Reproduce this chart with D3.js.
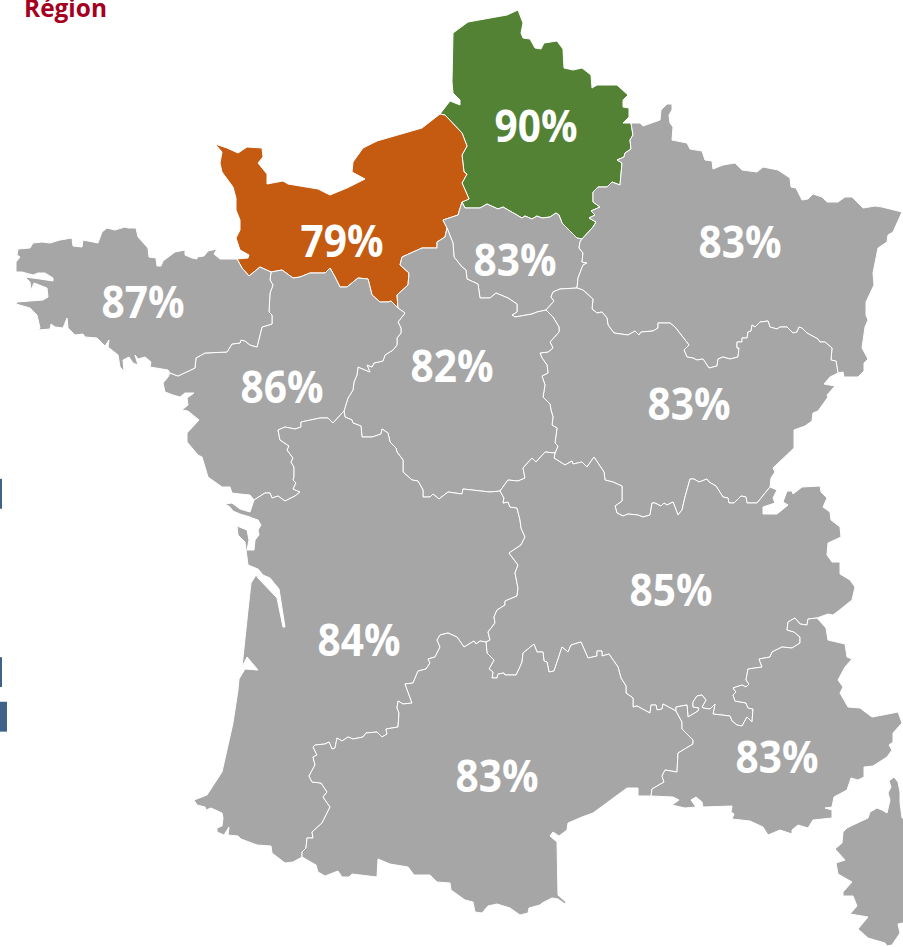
<!DOCTYPE html>
<html lang="fr">
<head>
<meta charset="utf-8">
<title>Région</title>
<script src="https://cdn.jsdelivr.net/npm/d3@7"></script>
<style>
html,body{margin:0;padding:0;background:#fff;overflow:hidden}
svg{display:block}
text{font-family:"Open Sans",sans-serif;font-weight:700}
</style>
</head>
<body>
<div id="chart"></div>
<script>
const titleText = "Région";
const regionNames = ["Hauts-de-France","Normandie","Île-de-France","Grand Est","Bourgogne-Franche-Comté","Centre-Val de Loire","Pays de la Loire","Bretagne","Nouvelle-Aquitaine","Auvergne-Rhône-Alpes","Occitanie","Provence-Alpes-Côte d'Azur"];
const regionValues = [90,79,83,83,83,82,86,87,84,85,83,83];
const regionColors = ["#548235","#C55A11","#A6A6A6","#A6A6A6","#A6A6A6","#A6A6A6","#A6A6A6","#A6A6A6","#A6A6A6","#A6A6A6","#A6A6A6","#A6A6A6"];
const labelAnchors = [[536,124.5],[342,239.5],[515,258.5],[740,240.5],[689,402.5],[452,364.5],[282,385.5],[143,300.5],[359,638.5],[671,588.5],[497,774.5],[777,755.5]];

// Shared borders (map units = picture pixels)
const hdfCoast = [[440,114],[450,101],[460,105],[460,100],[453,93],[452,82],[453,33],[468,22],[507,15],[518,10],[523,23],[521,33],[523,38],[530,39],[535,48],[541,49],[544,43],[557,41],[563,49],[564,68],[573,70],[582,68],[591,75],[592,88],[597,85],[617,85],[628,95],[623,100],[623,107],[629,108],[629,117],[623,123],[631,123]];
const hdfGe = [[631,123],[633,135],[630,140],[631,149],[625,153],[624,157],[617,160],[622,163],[620,185],[612,182],[607,187],[598,187],[593,192],[593,202],[600,207],[591,211],[595,215],[589,218],[596,222],[593,227],[582,239]];
const hdfIdf = [[582,239],[577,238],[562,223],[559,215],[556,213],[550,217],[542,218],[537,216],[532,219],[525,216],[522,218],[503,207],[498,209],[487,204],[480,208],[465,208],[462,202]];
const hdfNorm = [[462,202],[469,199],[466,192],[462,183],[467,174],[464,172],[462,155],[467,146],[462,133],[445,115],[440,114]];
const normCoast = [[440,114],[422,128],[377,141],[363,148],[353,162],[352,172],[365,179],[347,188],[330,195],[318,189],[288,184],[283,181],[267,184],[267,174],[258,163],[263,157],[262,148],[247,147],[238,153],[227,148],[215,144],[222,152],[220,163],[222,172],[233,187],[236,198],[236,210],[240,220],[240,230],[236,238],[240,250],[249,255],[248,258],[237,259]];
const normBret = [[237,259],[242,268],[249,276],[260,267],[271,272]];
const normPdl = [[271,272],[282,270],[293,278],[300,277],[310,273],[325,273],[330,268],[335,277],[340,287],[347,287],[358,278],[368,279],[372,295],[380,302],[388,302],[391,301],[398,308]];
const normCvl = [[398,308],[397,295],[408,285],[409,273],[400,265],[402,257],[422,248],[437,248],[437,242],[445,237],[447,228]];
const normIdf = [[447,228],[443,220],[458,215],[462,202]];
const idfCvl = [[447,228],[453,243],[454,257],[462,267],[466,270],[467,279],[478,284],[480,298],[490,298],[496,293],[508,298],[517,304],[517,312],[512,315],[515,317],[532,314],[537,312],[546,310]];
const idfBfc = [[546,310],[554,301],[551,297],[553,292],[560,289],[577,288]];
const idfGe = [[577,288],[578,278],[583,265],[587,263],[582,262],[583,253],[579,248],[580,242],[582,239]];
const geBfc = [[577,288],[583,290],[593,299],[592,309],[597,313],[602,312],[607,318],[608,325],[614,333],[628,335],[635,331],[639,335],[641,332],[653,331],[658,328],[658,323],[670,323],[675,327],[689,345],[684,350],[687,357],[693,358],[697,360],[703,359],[709,368],[717,366],[718,359],[723,357],[730,359],[738,357],[739,348],[737,348],[737,342],[742,342],[742,338],[747,338],[748,332],[751,331],[752,325],[755,327],[760,322],[768,321],[770,327],[777,329],[780,327],[787,327],[793,333],[797,332],[799,327],[802,328],[807,333],[818,339],[820,342],[825,342],[832,348],[831,360],[836,361],[838,373]];
const geOuter = [[631,123],[640,123],[643,126],[660,120],[661,110],[667,104],[672,104],[672,110],[669,115],[670,123],[673,127],[672,140],[687,143],[690,149],[702,151],[705,160],[712,161],[713,169],[723,165],[735,163],[742,170],[757,172],[763,167],[778,170],[790,178],[791,187],[796,188],[802,200],[808,199],[813,194],[822,197],[827,202],[838,202],[845,197],[852,197],[863,208],[875,206],[882,207],[902,212],[893,232],[888,235],[887,242],[878,248],[873,273],[874,285],[866,302],[866,315],[868,320],[865,327],[862,348],[868,359],[864,363],[864,371],[858,377],[844,377],[843,372],[838,373]];
const bfcOuter = [[838,373],[830,377],[824,384],[835,386],[827,395],[828,397],[818,411],[813,413],[812,421],[805,426],[794,430],[794,448],[773,468],[775,472],[771,478],[770,487]];
const bfcAra = [[770,487],[757,503],[747,503],[746,497],[741,496],[734,503],[729,503],[728,498],[723,497],[716,486],[709,482],[707,479],[699,482],[694,479],[690,479],[685,497],[682,510],[678,515],[675,507],[673,502],[667,505],[664,503],[661,506],[655,503],[652,503],[650,515],[643,517],[638,515],[628,514],[623,516],[617,513],[615,506],[622,501],[622,486],[613,482],[605,480],[604,472],[594,457],[587,467],[582,462],[573,464],[572,461],[565,465],[554,458],[555,453]];
const bfcCvl = [[546,310],[553,317],[559,327],[559,332],[550,342],[553,348],[548,352],[540,353],[542,358],[547,365],[548,373],[542,376],[545,385],[543,397],[550,404],[551,410],[553,417],[552,425],[557,428],[555,443],[558,446],[555,453]];
const araCvl = [[555,453],[545,452],[536,462],[532,458],[523,468],[525,478],[518,481],[508,480],[500,491]];
const cvlNa = [[500,491],[490,492],[463,489],[462,494],[448,492],[439,499],[433,494],[430,497],[423,497],[423,490],[418,481],[412,480],[403,472],[403,460],[397,452],[396,448],[390,442],[388,433],[382,429],[381,434],[372,437],[362,437],[361,426],[353,423],[352,420],[345,417],[344,411]];
const cvlPdl = [[344,411],[348,398],[353,390],[354,382],[357,375],[358,367],[370,372],[367,365],[372,367],[374,363],[383,361],[385,355],[393,350],[397,345],[397,338],[401,333],[401,328],[398,322],[405,313],[398,308]];
const pdlNa = [[344,411],[333,423],[328,418],[320,418],[301,422],[301,427],[295,429],[285,427],[278,430],[280,440],[289,446],[287,450],[293,458],[291,462],[294,467],[294,477],[293,480],[296,483],[293,489],[300,492],[295,496],[285,501],[278,496],[272,498],[270,493],[265,493],[254,500]];
const pdlCoast = [[254,500],[250,495],[240,494],[232,493],[230,487],[222,487],[208,477],[202,457],[198,455],[187,442],[187,433],[199,420],[188,411],[182,410],[188,405],[187,398],[194,393],[185,393],[180,397],[173,395],[165,392],[163,383],[168,377],[170,373]];
const pdlBret = [[170,373],[178,376],[195,368],[196,358],[205,353],[227,352],[232,344],[240,343],[241,340],[245,341],[250,345],[257,347],[262,327],[272,324],[272,315],[269,312],[270,293],[273,285],[270,280],[271,272]];
const bretCoast = [[237,259],[220,259],[214,254],[217,249],[208,251],[204,256],[197,257],[197,259],[192,258],[185,255],[185,250],[175,252],[163,261],[161,266],[157,266],[156,258],[149,257],[148,248],[138,237],[136,228],[128,228],[125,227],[115,230],[107,228],[102,232],[98,243],[83,240],[82,247],[73,246],[72,238],[60,240],[50,243],[42,242],[33,243],[30,248],[18,249],[17,255],[20,257],[16,262],[16,272],[22,272],[33,275],[38,273],[45,273],[53,278],[53,281],[40,279],[25,277],[30,282],[31,290],[34,283],[47,288],[48,297],[43,300],[17,302],[16,304],[23,306],[30,308],[37,315],[40,328],[38,330],[50,329],[51,324],[55,327],[63,328],[67,318],[68,328],[75,335],[83,334],[85,337],[97,338],[105,346],[109,340],[108,347],[118,355],[120,367],[124,371],[123,360],[129,357],[133,363],[138,365],[135,355],[138,359],[145,357],[151,362],[150,367],[168,370],[170,373]];
const naCoast = [[254,500],[250,512],[240,509],[232,503],[225,504],[230,507],[233,511],[240,514],[250,517],[252,518],[258,520],[261,525],[258,530],[259,535],[255,540],[254,550],[247,550],[249,540],[247,530],[237,526],[238,535],[245,542],[248,565],[258,569],[263,575],[270,578],[279,589],[285,627],[283,627],[277,598],[258,578],[256,575],[251,583],[248,610],[242,667],[247,657],[258,670],[245,669],[239,679],[238,690],[233,723],[222,772],[207,795],[194,800],[197,805],[205,807],[206,810],[211,808],[222,813],[223,818],[222,826],[217,828],[217,832],[224,835],[229,827],[228,835],[238,836],[241,839],[257,845],[271,846],[272,853],[285,863],[293,862],[302,857]];
const naOcc = [[302,857],[302,852],[306,848],[307,838],[313,838],[312,832],[322,823],[330,807],[323,797],[327,792],[321,783],[312,782],[309,776],[315,765],[313,757],[317,755],[313,747],[315,745],[325,744],[329,742],[332,749],[335,748],[337,738],[342,741],[348,737],[353,739],[363,737],[366,733],[377,732],[382,737],[387,734],[386,729],[398,727],[399,713],[397,708],[398,701],[403,704],[412,703],[405,684],[413,683],[418,671],[426,669],[430,663],[428,659],[435,657],[440,647],[437,640],[440,635],[448,633],[457,637],[464,647],[474,641],[476,644],[480,641],[486,642]];
const naAra = [[500,491],[504,498],[503,503],[508,502],[510,507],[517,508],[520,520],[521,528],[525,537],[521,545],[509,553],[518,565],[515,573],[518,588],[517,596],[505,601],[505,605],[497,610],[494,617],[495,623],[488,632],[490,640],[486,642]];
const occAra = [[486,642],[487,653],[494,660],[489,669],[493,672],[492,678],[497,678],[498,674],[504,673],[505,675],[516,675],[519,669],[522,662],[523,653],[534,644],[537,652],[543,652],[544,661],[547,662],[549,672],[554,671],[562,647],[568,652],[571,645],[581,642],[588,658],[597,656],[597,651],[602,651],[602,656],[609,654],[618,667],[621,678],[626,686],[626,693],[633,698],[633,707],[637,706],[650,713],[651,705],[656,705],[657,710],[662,709],[663,704],[676,711]];
const occPaca = [[676,711],[682,722],[682,729],[693,740],[693,744],[678,753],[677,772],[665,770],[662,776],[664,782],[652,789],[651,796]];
const occCoast = [[651,796],[638,796],[638,788],[627,788],[593,813],[582,817],[568,823],[567,830],[559,836],[553,832],[550,836],[557,842],[558,895],[566,902],[565,904],[558,899],[552,898],[542,903],[540,905],[529,908],[528,913],[520,915],[510,908],[497,904],[488,906],[482,913],[475,912],[473,902],[465,900],[451,890],[450,883],[437,882],[430,875],[414,875],[408,867],[390,864],[378,859],[377,877],[352,874],[349,877],[342,877],[338,871],[325,876],[318,872],[316,865],[302,857]];
const araPaca = [[676,711],[676,707],[687,705],[688,717],[698,711],[699,708],[693,707],[693,702],[697,696],[702,695],[706,700],[702,707],[703,708],[710,709],[715,704],[713,714],[730,716],[732,721],[737,725],[742,726],[747,717],[752,722],[753,709],[748,708],[746,703],[735,701],[733,695],[736,692],[733,688],[742,685],[746,687],[749,684],[746,680],[748,669],[762,667],[759,659],[770,657],[772,652],[782,647],[792,648],[800,643],[800,637],[794,632],[787,630],[788,622],[795,618],[800,624],[807,625],[808,619],[817,618]];
const araOuter = [[770,487],[777,490],[773,498],[775,503],[763,507],[763,514],[777,514],[788,505],[783,502],[787,491],[792,491],[793,494],[802,487],[820,486],[821,492],[827,498],[823,507],[830,512],[831,520],[840,527],[841,537],[828,543],[827,555],[832,562],[840,562],[840,574],[850,580],[855,587],[852,600],[837,612],[833,615],[828,614],[817,618]];
const pacaOuter = [[817,618],[826,628],[828,640],[845,644],[847,657],[852,659],[845,667],[838,680],[843,687],[840,693],[848,707],[860,708],[872,717],[888,714],[898,712],[902,723],[893,733],[893,742],[889,745],[892,750],[887,757],[873,766],[864,767],[864,777],[858,780],[851,778],[847,790],[834,797],[832,807],[825,808],[832,810],[832,818],[813,820],[808,828],[798,825],[792,830],[792,834],[780,830],[768,835],[763,827],[750,821],[732,819],[734,814],[731,812],[732,806],[703,807],[702,802],[696,797],[691,800],[696,807],[685,808],[672,805],[679,800],[673,797],[651,796]];
const corsica = [[889,781],[894,777],[898,782],[900,792],[900,802],[902,818],[915,818],[915,923],[903,923],[898,924],[900,933],[892,945],[887,946],[885,943],[868,938],[858,929],[868,917],[850,914],[857,906],[853,896],[843,896],[843,892],[852,882],[838,874],[836,863],[845,860],[835,849],[842,843],[843,832],[847,828],[853,825],[868,818],[870,812],[877,808],[882,810],[887,813],[890,800],[888,793],[891,787],[889,781]];

// Each region's outline as a chain of borders; a minus sign walks a border backwards
const regionRings = [
  [hdfCoast,hdfGe,hdfIdf,hdfNorm],
  [normCoast,normBret,normPdl,normCvl,normIdf,hdfNorm],
  [idfCvl,idfBfc,idfGe,hdfIdf,"-",normIdf],
  [geOuter,"-",geBfc,idfGe,"-",hdfGe],
  [geBfc,bfcOuter,bfcAra,"-",bfcCvl,idfBfc],
  [idfCvl,bfcCvl,araCvl,cvlNa,cvlPdl,normCvl],
  [normPdl,"-",cvlPdl,pdlNa,pdlCoast,pdlBret],
  [bretCoast,pdlBret,"-",normBret],
  [naAra,"-",naOcc,"-",naCoast,"-",pdlNa,"-",cvlNa],
  ["-",araCvl,"-",bfcAra,araOuter,"-",araPaca,"-",occAra,"-",naAra],
  [occAra,occPaca,occCoast,naOcc],
  [araPaca,pacaOuter,"-",occPaca]
];

// The clipped bars of a neighbouring panel, at the left edge
const barCategories = ["a","b","c","d","e","f"];
const barValues = [2,null,null,null,2,7];

const width = 903, height = 947;

function chainRing(parts){
  const ring = [];
  let back = false;
  parts.forEach(p => {
    if (p === "-") { back = true; return; }
    const pts = back ? p.slice().reverse() : p;
    back = false;
    pts.forEach(c => ring.push(c));
  });
  return ring;
}

const features = regionNames.map((name,i) => ({
  type:"Feature",
  properties:{name,value:regionValues[i],color:regionColors[i],anchor:labelAnchors[i]},
  geometry:{type:"Polygon",coordinates:[chainRing(regionRings[i])]}
}));
features.push({
  type:"Feature",
  properties:{name:"Corse",value:null,color:"#A6A6A6"},
  geometry:{type:"Polygon",coordinates:[corsica]}
});

const svg = d3.select("#chart").append("svg")
  .attr("width",width).attr("height",height).attr("viewBox",[0,0,width,height]);

const path = d3.geoPath(d3.geoIdentity());

svg.append("g").selectAll("path").data(features).join("path")
  .attr("d",path)
  .attr("fill",d=>d.properties.color)
  .attr("stroke","#fff")
  .attr("stroke-width",1)
  .attr("stroke-linejoin","round");

svg.append("g").selectAll("text").data(features.filter(d=>d.properties.value!==null)).join("text")
  .attr("x",d=>d.properties.anchor[0])
  .attr("y",d=>d.properties.anchor[1])
  .attr("text-anchor","middle")
  .attr("dominant-baseline","central")
  .attr("fill","#fff")
  .attr("font-size",44)
  .attr("textLength",83)
  .attr("lengthAdjust","spacingAndGlyphs")
  .text(d=>d.properties.value+"%");

svg.append("text")
  .attr("x",24).attr("y",16.5)
  .attr("fill","#A50021")
  .attr("font-size",24.5)
  .attr("textLength",83)
  .attr("lengthAdjust","spacingAndGlyphs")
  .text(titleText);

const barY = d3.scaleBand().domain(barCategories).range([471.5,739]).paddingInner(0.33).paddingOuter(0.165);
const barX = d3.scaleLinear().domain([0,7]).range([0,7]);
svg.append("g").selectAll("rect").data(barCategories.map((c,i)=>({c,v:barValues[i]})).filter(d=>d.v!==null)).join("rect")
  .attr("x",barX(0))
  .attr("y",d=>barY(d.c))
  .attr("width",d=>barX(d.v))
  .attr("height",barY.bandwidth())
  .attr("fill","#3F6388");
</script>
</body>
</html>
